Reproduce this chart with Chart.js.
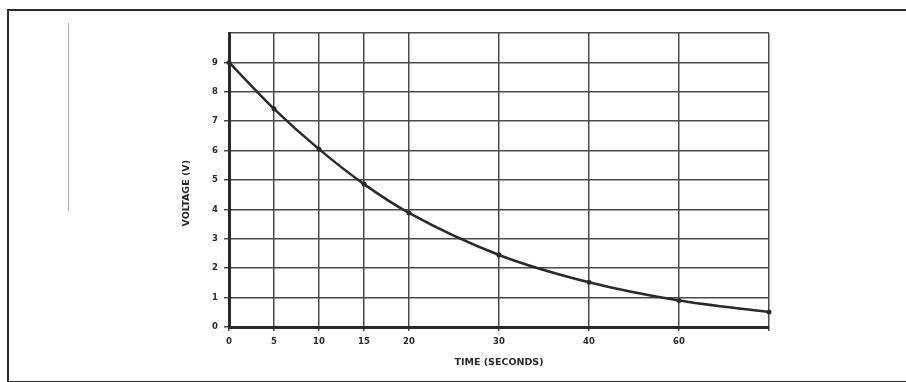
<html>
<head>
    <script src="https://cdn.jsdelivr.net/npm/chart.js@4"></script>
    <title>Voltage vs time</title>
    <style>
        body { margin: 0; background: #fff; }
        #frame { position: absolute; left: 7px; top: 9px; width: 1000px; height: 370px;
                 border: 2px solid #2b2b2b; border-right: none; }
        #mark { position: absolute; left: 68px; top: 23px; width: 1px; height: 188px; background: #a8a8a8; }
        #wrap { position: absolute; left: 0; top: 0; }
    </style>
</head>
<body>
<div id="frame"></div>
<div id="mark"></div>
<div id="wrap"><canvas id="chart" width="906" height="382"></canvas></div>

<script>
    // values
    var times = [0, 5, 10, 15, 20, 30, 40, 50, 60];
    var voltages = [9.0, 7.42, 6.05, 4.86, 3.88, 2.45, 1.52, 0.9, 0.51];
    var xTickValues = [0, 5, 10, 15, 20, 30, 40, 50, 60];
    var xTickLabels = ['0', '5', '10', '15', '20', '30', '40', '60', ''];
    var yTickValues = [0, 1, 2, 3, 4, 5, 6, 7, 8, 9, 10];
    var yTickLabels = ['0', '1', '2', '3', '4', '5', '6', '7', '8', '9', ''];

    var ink = '#2a2a2a';
    var gridInk = '#4a4a4a';
    var tickFont = { family: 'DejaVu Sans', size: 8.5, weight: 'bold' };
    var titleFont = { family: 'DejaVu Sans', size: 9.5, weight: 'bold' };

    var points = times.map((t, i) => ({ x: t, y: voltages[i] }));

    new Chart(document.getElementById('chart'), {
        type: 'line',
        data: {
            datasets: [{
                data: points,
                borderColor: ink,
                borderWidth: 2.5,
                backgroundColor: ink,
                pointRadius: 2.5,
                pointBorderWidth: 0,
                cubicInterpolationMode: 'monotone',
                fill: false,
                clip: false
            }]
        },
        options: {
            responsive: false,
            animation: false,
            layout: { padding: { left: 181, top: 33, right: 137, bottom: 14 } },
            plugins: { legend: { display: false }, tooltip: { enabled: false } },
            scales: {
                x: {
                    type: 'linear',
                    min: 0,
                    max: 60,
                    afterBuildTicks: s => { s.ticks = xTickValues.map(v => ({ value: v })); },
                    afterFit: s => { s.height = 382 - 327 - 14; },
                    ticks: {
                        color: ink,
                        font: tickFont,
                        padding: 6,
                        maxRotation: 0,
                        autoSkip: false,
                        callback: (v, i) => xTickLabels[i]
                    },
                    grid: { color: gridInk, lineWidth: 1.5, tickLength: 4, tickColor: gridInk },
                    border: { color: ink, width: 3 },
                    title: { display: true, text: 'TIME (SECONDS)', color: ink, font: titleFont, padding: { top: 4, bottom: 0 } }
                },
                y: {
                    min: 0,
                    max: 10,
                    afterBuildTicks: s => { s.ticks = yTickValues.map(v => ({ value: v })); },
                    afterFit: s => { s.width = 229 - 181; },
                    ticks: {
                        color: ink,
                        font: tickFont,
                        padding: 6,
                        autoSkip: false,
                        callback: (v, i) => yTickLabels[i]
                    },
                    grid: {
                        color: gridInk,
                        lineWidth: 1.5,
                        tickLength: 5,
                        tickColor: ctx => ctx.tick && ctx.tick.value === 10 ? 'rgba(0,0,0,0)' : gridInk
                    },
                    border: { color: ink, width: 3 },
                    title: {
                        display: true,
                        text: 'VOLTAGE (V)' + '\u00a0'.repeat(8),
                        color: ink,
                        font: titleFont,
                        padding: { top: 0, bottom: 0 }
                    }
                }
            }
        }
    });
</script>
</body>
</html>
